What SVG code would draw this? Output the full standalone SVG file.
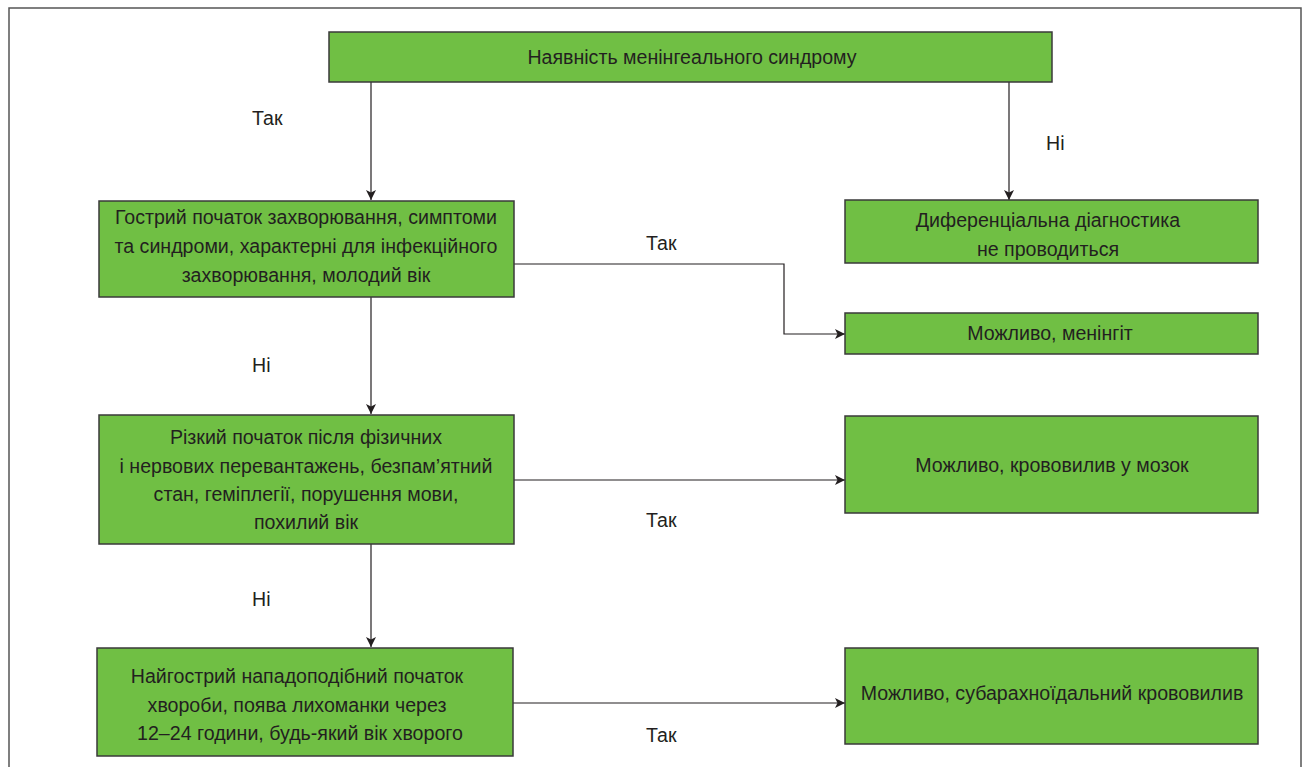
<svg xmlns="http://www.w3.org/2000/svg" width="1305" height="767" viewBox="0 0 1305 767">
<defs>
<style>
.box{fill:#70bf44;stroke:#3a3a3a;stroke-width:1.5}
.t{font-family:"Liberation Sans",Arial,sans-serif;font-size:19.6px;fill:#231f20;text-anchor:middle}
.lbl{font-family:"Liberation Sans",Arial,sans-serif;font-size:19.6px;fill:#231f20}
.c{fill:none;stroke:#231f20;stroke-width:1.2}
</style>
<marker id="ah" viewBox="0 0 10 10" refX="10" refY="5" markerWidth="10" markerHeight="10" markerUnits="userSpaceOnUse" orient="auto">
<path d="M0,0 L10,5 L0,10 L2.5,5 Z" fill="#231f20"/>
</marker>
</defs>
<rect width="1305" height="767" fill="#fff"/>
<path d="M9,770 V8 H1301 V770" fill="none" stroke="#555" stroke-width="1.5"/>
<g id="connectors">
<path class="c" d="M371,82 V200" marker-end="url(#ah)"/>
<path class="c" d="M1009,82 V200" marker-end="url(#ah)"/>
<path class="c" d="M514,264 H784 V334 H845" marker-end="url(#ah)"/>
<path class="c" d="M371,297 V414" marker-end="url(#ah)"/>
<path class="c" d="M514,480 H845" marker-end="url(#ah)"/>
<path class="c" d="M371,544 V647" marker-end="url(#ah)"/>
<path class="c" d="M513,703 H845" marker-end="url(#ah)"/>
<text class="lbl" x="252" y="125">Так</text>
<text class="lbl" x="1046" y="150">Ні</text>
<text class="lbl" x="646" y="250">Так</text>
<text class="lbl" x="252" y="372">Ні</text>
<text class="lbl" x="646" y="527">Так</text>
<text class="lbl" x="252" y="606">Ні</text>
<text class="lbl" x="646" y="742">Так</text>
</g>
<g id="n1">
<rect class="box" x="329" y="32" width="723" height="50"/>
<text class="t" x="692" y="64">Наявність менінгеального синдрому</text>
</g>
<g id="n2">
<rect class="box" x="99" y="201" width="415" height="96"/>
<text class="t" x="306" y="224">Гострий початок захворювання, симптоми</text>
<text class="t" x="306" y="253">та синдроми, характерні для інфекційного</text>
<text class="t" x="306" y="282">захворювання, молодий вік</text>
</g>
<g id="n3">
<rect class="box" x="845" y="200" width="413" height="63"/>
<text class="t" x="1048" y="227">Диференціальна діагностика</text>
<text class="t" x="1048" y="256">не проводиться</text>
</g>
<g id="n4">
<rect class="box" x="845" y="313" width="413" height="41"/>
<text class="t" x="1050" y="340">Можливо, менінгіт</text>
</g>
<g id="n5">
<rect class="box" x="99" y="415" width="415" height="129"/>
<text class="t" x="306" y="444">Різкий початок після фізичних</text>
<text class="t" x="306" y="473">і нервових перевантажень, безпам’ятний</text>
<text class="t" x="306" y="501">стан, геміплегії, порушення мови,</text>
<text class="t" x="306" y="529">похилий вік</text>
</g>
<g id="n6">
<rect class="box" x="845" y="416" width="413" height="97"/>
<text class="t" x="1052" y="472">Можливо, крововилив у мозок</text>
</g>
<g id="n7">
<rect class="box" x="97" y="648" width="416" height="108"/>
<text class="t" x="297" y="683">Найгострий нападоподібний початок</text>
<text class="t" x="297" y="712">хвороби, поява лихоманки через</text>
<text class="t" x="300" y="740">12–24 години, будь-який вік хворого</text>
</g>
<g id="n8">
<rect class="box" x="845" y="648" width="413" height="96"/>
<text class="t" x="1052" y="700">Можливо, субарахноїдальний крововилив</text>
</g>
</svg>
